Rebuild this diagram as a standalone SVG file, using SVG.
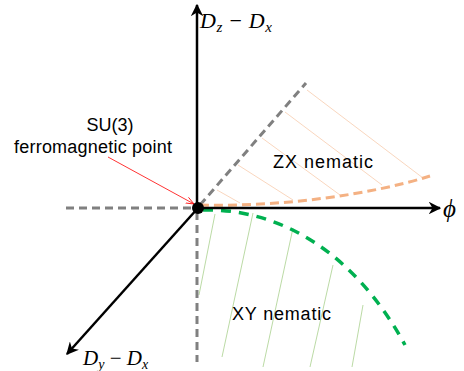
<svg xmlns="http://www.w3.org/2000/svg" width="464" height="371" viewBox="0 0 464 371">
<style>
.lbl{font-family:"Liberation Sans",Arial,sans-serif;font-size:18px;fill:#000}
.math{font-family:"Liberation Serif","Times New Roman",serif;font-style:italic;fill:#000}
.axis{stroke:#000;stroke-width:2.5;fill:none}
.gray{stroke:#808080;stroke-width:3;stroke-dasharray:8,5;fill:none}
.oh{stroke:#F8CBAD;stroke-width:0.8;fill:none}
.gh{stroke:#A9D18E;stroke-width:0.8;fill:none}
</style>
<defs>
<marker id="ah" viewBox="0 0 10 10" refX="9" refY="5" markerWidth="5" markerHeight="5" orient="auto" markerUnits="strokeWidth">
<path d="M0,0 L10,5 L0,10 L3,5 z" fill="#000"/>
</marker>
<marker id="ra" viewBox="0 0 10 10" refX="10" refY="5" markerWidth="10" markerHeight="10" orient="auto" markerUnits="strokeWidth">
<path d="M0,1 L10,5 L0,9" fill="none" stroke="#FF0000" stroke-width="1"/>
</marker>
</defs>
<g id="hatching">
<line class="oh" x1="307" y1="90" x2="423" y2="178"/>
<line class="oh" x1="285" y1="112" x2="382" y2="185"/>
<line class="oh" x1="262" y1="138" x2="340" y2="195"/>
<line class="oh" x1="238" y1="165" x2="293" y2="200"/>
<line class="oh" x1="217" y1="190" x2="240" y2="203"/>
<line class="gh" x1="215" y1="214" x2="199" y2="295"/>
<line class="gh" x1="253" y1="213" x2="222" y2="357"/>
<line class="gh" x1="293" y1="228" x2="263" y2="367"/>
<line class="gh" x1="333" y1="265" x2="310" y2="367"/>
<line class="gh" x1="363" y1="305" x2="352" y2="367"/>
</g>
<g id="connectors">
<line class="gray" x1="66" y1="208" x2="195" y2="208"/>
<line class="gray" x1="200" y1="205" x2="306" y2="83"/>
<line class="gray" x1="197" y1="212" x2="197" y2="362"/>
<path d="M200,205 C280,207 370,195 430,176" fill="none" stroke="#F4B183" stroke-width="3" stroke-dasharray="9,5"/>
<path d="M203,210 C280,208 355,253 405,345" fill="none" stroke="#00B050" stroke-width="3.5" stroke-dasharray="10,8"/>
<line class="axis" x1="197" y1="208" x2="197" y2="5" marker-end="url(#ah)"/>
<line class="axis" x1="198" y1="208" x2="440" y2="208" marker-end="url(#ah)"/>
<line class="axis" x1="198" y1="208" x2="67" y2="354" marker-end="url(#ah)"/>
<line x1="108" y1="157" x2="194" y2="204" stroke="#FF0000" stroke-width="0.8" marker-end="url(#ra)"/>
</g>
<g id="origin">
<circle cx="198" cy="208" r="6" fill="#000"/>
</g>
<g id="su3-label">
<text class="lbl" x="110" y="131" text-anchor="middle">SU(3)</text>
<text class="lbl" x="14" y="153" textLength="158">ferromagnetic point</text>
</g>
<g id="zx-nematic">
<text class="lbl" x="273" y="168" textLength="100">ZX nematic</text>
</g>
<g id="xy-nematic">
<text class="lbl" x="232" y="320" textLength="99">XY nematic</text>
</g>
<g id="axis-labels">
<text class="math" x="200" y="28" font-size="22" textLength="72">D<tspan font-size="15" dy="4">z</tspan><tspan dy="-4" font-style="normal"> − </tspan>D<tspan font-size="15" dy="4">x</tspan></text>
<text class="math" x="83" y="365" font-size="21">D<tspan font-size="14" dy="4">y</tspan><tspan dy="-4" font-style="normal"> − </tspan>D<tspan font-size="14" dy="4">x</tspan></text>
<text class="math" x="443" y="217" font-size="25">ϕ</text>
</g>
</svg>
